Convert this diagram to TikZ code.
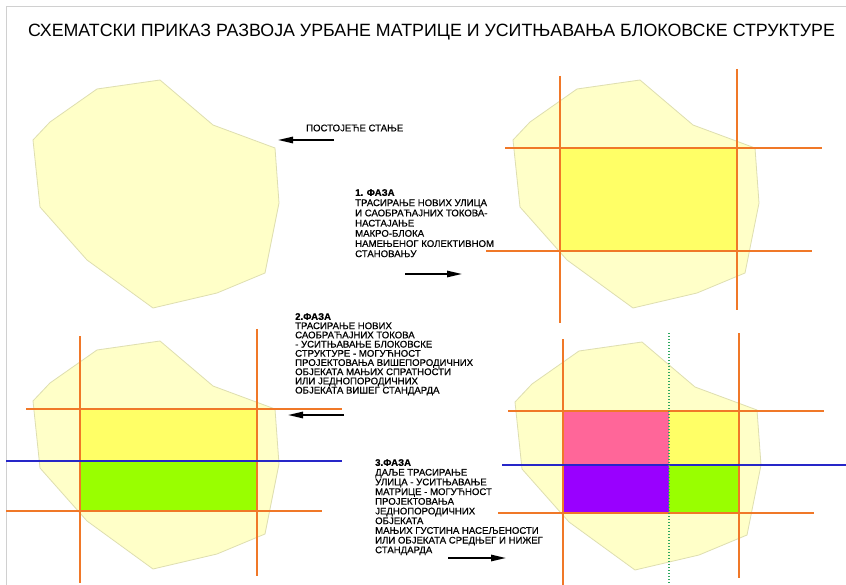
\documentclass[tikz,border=0pt]{standalone}
\usepackage{fontspec}
\setmainfont{Liberation Sans}
\newfontfamily\labelfont[FakeBold=0.6]{Liberation Sans}
\usetikzlibrary{arrows.meta}
\definecolor{zone}{HTML}{FFFFC8}
\definecolor{zoneedge}{HTML}{DEDEB0}
\definecolor{road}{HTML}{F07828}
\definecolor{blueroad}{HTML}{2626C8}
\definecolor{yel}{HTML}{FFFF66}
\definecolor{grn}{HTML}{99FF00}
\definecolor{pnk}{HTML}{FF6699}
\definecolor{prp}{HTML}{9900FF}
\definecolor{dotg}{HTML}{2EA860}
\definecolor{framegray}{HTML}{D0D0D0}
\newcommand{\zoneoutline}{(33,140) -- (50,122) -- (97,89) -- (160,80) -- (213,125) -- (275,148) -- (279,203) -- (265,273) -- (217,293) -- (153,308) -- (87,260) -- (40,207) -- cycle}
\begin{document}
\begin{tikzpicture}[x=1pt,y=-1pt,
  zonestyle/.style={fill=zone,draw=zoneedge,line width=0.8pt},
  street/.style={draw=road,line width=2.4pt},
  bluestreet/.style={draw=blueroad,line width=2.4pt},
  dotstreet/.style={draw=dotg,line width=2pt,dash pattern=on 1.2pt off 1.8pt},
  phasearrow/.style={draw=black,line width=2.6pt,-{Triangle[length=16pt,width=6pt]}},
  phasetext/.style={anchor=north west,align=left,inner sep=0pt,font=\labelfont\fontsize{9.6}{9.6}\selectfont},
  titletext/.style={inner sep=0pt,font=\fontsize{17.8}{18}\selectfont}
]
\useasboundingbox (0,0) rectangle (846,585);
\fill[white] (0,0) rectangle (846,585);
\draw[framegray,line width=1pt] (6.5,585) -- (6.5,7) -- (846,7);

\node[titletext] (title) at (431.5,32) {СХЕМАТСКИ ПРИКАЗ РАЗВОЈА УРБАНЕ МАТРИЦЕ И УСИТЊАВАЊА БЛОКОВСКЕ СТРУКТУРЕ};

% ---- existing state (top left)
\fill[zonestyle] \zoneoutline;

% ---- phase 1 (top right)
\begin{scope}[shift={(480,0)}]
  \fill[zonestyle] \zoneoutline;
\end{scope}
\fill[yel] (560,148) rectangle (737,251);
\draw[street] (560,76) -- (560,323);
\draw[street] (737,69) -- (737,310);
\draw[street] (505,148) -- (822,148);
\draw[street] (486,251) -- (812,251);

% ---- phase 2 (bottom left)
\begin{scope}[shift={(0,261)}]
  \fill[zonestyle] \zoneoutline;
\end{scope}
\fill[yel] (80,409) rectangle (257,461);
\fill[grn] (80,461) rectangle (257,511);
\draw[street] (80,336) -- (80,583);
\draw[street] (257,329) -- (257,576);
\draw[street] (26,409) -- (342,409);
\draw[street] (6,511) -- (322,511);
\draw[bluestreet] (6,461) -- (342,461);

% ---- phase 3 (bottom right)
\begin{scope}[shift={(482,262)}]
  \fill[zonestyle] \zoneoutline;
\end{scope}
\fill[pnk] (563,411) rectangle (669,465);
\fill[yel] (669,411) rectangle (739,465);
\fill[prp] (563,465) rectangle (669,513);
\fill[grn] (669,465) rectangle (739,513);
\draw[street] (563,339) -- (563,585);
\draw[street] (739,333) -- (739,578);
\draw[street] (508,411) -- (824,411);
\draw[street] (498,513) -- (814,513);
\draw[bluestreet] (502,465) -- (846,465);
\draw[dotstreet] (669,333) -- (669,585);

% ---- labels and arrows
\node[inner sep=0pt,anchor=west,font=\labelfont\fontsize{9.6}{10}\selectfont] (state) at (306,128) {ПОСТОЈЕЋЕ СТАЊЕ};
\coordinate (a0s) at (334,140);
\coordinate (a0e) at (277,140);
\draw[phasearrow] (a0s) -- (a0e);

\node[phasetext,font=\labelfont\fontsize{9.6}{10.2}\selectfont] (ph1) at (355,189) {\textbf{1. ФАЗА}\\ТРАСИРАЊЕ НОВИХ УЛИЦА\\И САОБРАЋАЈНИХ ТОКОВА-\\НАСТАЈАЊЕ\\МАКРО-БЛОКА\\НАМЕЊЕНОГ КОЛЕКТИВНОМ\\СТАНОВАЊУ};
\coordinate (a1s) at (405,274);
\coordinate (a1e) at (463,274);
\draw[phasearrow] (a1s) -- (a1e);

\node[phasetext,font=\labelfont\fontsize{9.6}{9.2}\selectfont] (ph2) at (295,313) {\textbf{2.ФАЗА}\\ТРАСИРАЊЕ НОВИХ\\САОБРАЋАЈНИХ ТОКОВА\\- УСИТЊАВАЊЕ БЛОКОВСКЕ\\СТРУКТУРЕ - МОГУЋНОСТ\\ПРОЈЕКТОВАЊА ВИШЕПОРОДИЧНИХ\\ОБЈЕКАТА МАЊИХ СПРАТНОСТИ\\ИЛИ ЈЕДНОПОРОДИЧНИХ\\ОБЈЕКАТА ВИШЕГ СТАНДАРДА};
\coordinate (a2s) at (344,415);
\coordinate (a2e) at (287,415);
\draw[phasearrow] (a2s) -- (a2e);

\node[phasetext,font=\labelfont\fontsize{9.6}{9.7}\selectfont] (ph3) at (375,459) {\textbf{3.ФАЗА}\\ДАЉЕ ТРАСИРАЊЕ\\УЛИЦА - УСИТЊАВАЊЕ\\МАТРИЦЕ - МОГУЋНОСТ\\ПРОЈЕКТОВАЊА\\ЈЕДНОПОРОДИЧНИХ\\ОБЈЕКАТА\\МАЊИХ ГУСТИНА НАСЕЉЕНОСТИ\\ИЛИ ОБЈЕКАТА СРЕДЊЕГ И НИЖЕГ\\СТАНДАРДА};
\coordinate (a3s) at (448,558);
\coordinate (a3e) at (507,558);
\draw[phasearrow] (a3s) -- (a3e);
\end{tikzpicture}
\end{document}
